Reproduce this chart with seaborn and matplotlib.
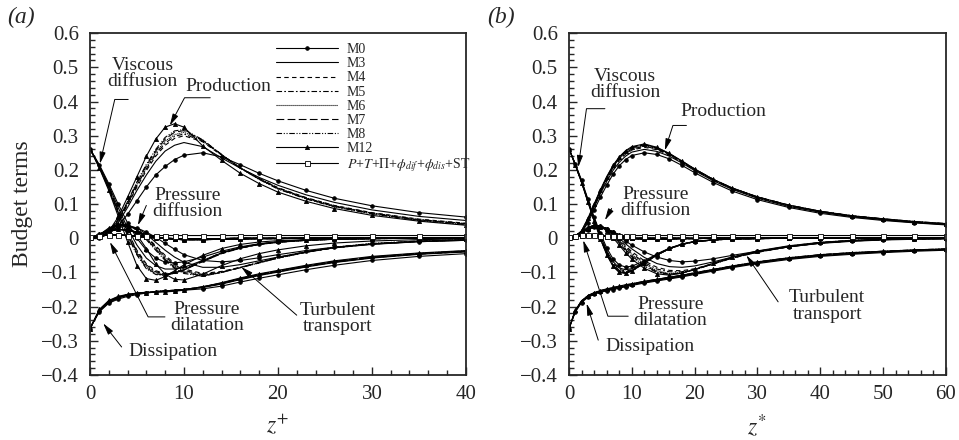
import pandas as pd
import matplotlib.pyplot as plt
import seaborn as sns
from matplotlib.ticker import MultipleLocator
from matplotlib import font_manager

models = ["M0", "M3", "M4", "M5", "M6", "M7", "M8", "M12"]
sum_label = r"$P$+$T$+$\mathit{\Pi}$+$\phi_{dif}$+$\phi_{dis}$+ST"

# ---- panel (a): wall units z+ ----
za = [0, 1, 2, 3, 4, 5, 6, 7, 8, 9, 10, 12, 14, 16, 18, 20, 23, 26, 30, 35, 40]

prod_a = [
    [0, .002, .012, .035, .070, .110, .150, .185, .210, .230, .243, .250, .238, .215, .190, .168, .140, .117, .095, .075, .062],
    [0, .002, .014, .045, .090, .140, .185, .225, .255, .272, .280, .268, .235, .205, .178, .155, .127, .105, .083, .064, .052],
    [0, .003, .016, .050, .097, .150, .198, .240, .272, .292, .300, .282, .243, .205, .175, .148, .119, .096, .075, .056, .044],
    [0, .003, .017, .052, .100, .155, .203, .246, .278, .298, .305, .284, .244, .206, .175, .147, .118, .095, .074, .055, .043],
    [0, .003, .017, .053, .102, .158, .207, .251, .284, .303, .310, .286, .245, .206, .174, .146, .117, .094, .073, .054, .042],
    [0, .003, .018, .055, .105, .162, .212, .256, .290, .310, .315, .287, .245, .205, .173, .145, .116, .093, .072, .053, .041],
    [0, .003, .018, .056, .107, .165, .216, .260, .295, .314, .318, .288, .245, .205, .172, .144, .115, .092, .071, .052, .040],
    [0, .003, .020, .062, .120, .180, .240, .290, .325, .335, .325, .270, .228, .190, .160, .135, .108, .087, .067, .050, .038],
]
visc_a = [
    [.262, .215, .160, .100, .045, .000, -.035, -.058, -.070, -.072, -.069, -.055, -.038, -.025, -.016, -.010, -.005, -.003, -.001, 0, 0],
    [.262, .212, .155, .090, .030, -.020, -.058, -.080, -.090, -.090, -.085, -.065, -.043, -.028, -.018, -.012, -.006, -.003, -.001, 0, 0],
    [.262, .210, .150, .082, .020, -.035, -.075, -.095, -.103, -.100, -.092, -.068, -.045, -.029, -.018, -.012, -.006, -.003, -.001, 0, 0],
    [.262, .210, .148, .080, .017, -.038, -.078, -.098, -.105, -.101, -.093, -.068, -.045, -.029, -.018, -.011, -.006, -.003, -.001, 0, 0],
    [.262, .209, .147, .078, .014, -.042, -.082, -.101, -.107, -.102, -.093, -.067, -.044, -.028, -.018, -.011, -.006, -.003, -.001, 0, 0],
    [.262, .208, .145, .075, .010, -.046, -.086, -.104, -.108, -.102, -.092, -.066, -.043, -.028, -.017, -.011, -.005, -.003, -.001, 0, 0],
    [.262, .208, .144, .073, .008, -.049, -.089, -.106, -.109, -.102, -.091, -.065, -.042, -.027, -.017, -.011, -.005, -.003, -.001, 0, 0],
    [.262, .205, .140, .065, -.010, -.080, -.118, -.123, -.112, -.095, -.078, -.050, -.030, -.018, -.011, -.007, -.004, -.002, -.001, 0, 0],
]
turb_a = [
    [0, .008, .022, .032, .035, .030, .018, .003, -.015, -.032, -.048, -.065, -.069, -.065, -.057, -.048, -.036, -.026, -.017, -.010, -.006],
    [0, .008, .024, .036, .038, .030, .012, -.012, -.035, -.055, -.070, -.085, -.085, -.077, -.066, -.055, -.040, -.028, -.018, -.010, -.006],
    [0, .009, .026, .038, .039, .027, .005, -.022, -.050, -.073, -.090, -.103, -.097, -.085, -.071, -.058, -.041, -.028, -.017, -.009, -.005],
    [0, .009, .026, .039, .039, .026, .003, -.025, -.054, -.077, -.094, -.106, -.099, -.086, -.072, -.058, -.041, -.028, -.017, -.009, -.005],
    [0, .009, .027, .039, .039, .025, .001, -.028, -.058, -.081, -.097, -.108, -.100, -.086, -.072, -.058, -.041, -.027, -.016, -.009, -.005],
    [0, .009, .027, .040, .039, .024, -.002, -.032, -.062, -.085, -.100, -.110, -.100, -.086, -.071, -.057, -.040, -.027, -.016, -.008, -.004],
    [0, .010, .028, .040, .039, .023, -.004, -.035, -.065, -.088, -.103, -.111, -.100, -.085, -.070, -.056, -.039, -.026, -.015, -.008, -.004],
    [0, .010, .030, .042, .035, .010, -.030, -.075, -.105, -.120, -.122, -.105, -.080, -.060, -.045, -.034, -.022, -.014, -.008, -.004, -.002],
]
diss_a = [
    [-.264, -.215, -.190, -.178, -.170, -.165, -.160, -.157, -.155, -.153, -.152, -.148, -.140, -.128, -.117, -.107, -.092, -.079, -.065, -.053, -.045],
    [-.264, -.213, -.188, -.175, -.167, -.162, -.159, -.156, -.154, -.152, -.150, -.144, -.134, -.121, -.109, -.099, -.084, -.071, -.058, -.047, -.040],
    [-.264, -.212, -.187, -.174, -.166, -.161, -.158, -.156, -.154, -.152, -.150, -.143, -.133, -.120, -.108, -.098, -.083, -.070, -.057, -.046, -.039],
    [-.264, -.211, -.186, -.173, -.166, -.161, -.158, -.156, -.154, -.152, -.150, -.143, -.132, -.119, -.107, -.097, -.082, -.069, -.056, -.046, -.039],
    [-.264, -.211, -.185, -.173, -.165, -.161, -.158, -.156, -.154, -.152, -.150, -.142, -.132, -.119, -.107, -.096, -.082, -.069, -.056, -.045, -.038],
    [-.264, -.210, -.184, -.172, -.165, -.160, -.158, -.156, -.154, -.152, -.150, -.142, -.131, -.118, -.106, -.096, -.081, -.068, -.055, -.045, -.038],
    [-.264, -.210, -.184, -.171, -.164, -.160, -.158, -.156, -.154, -.152, -.150, -.142, -.131, -.118, -.106, -.095, -.081, -.068, -.055, -.044, -.037],
    [-.264, -.208, -.182, -.170, -.164, -.161, -.159, -.158, -.157, -.155, -.152, -.142, -.130, -.116, -.104, -.094, -.079, -.066, -.053, -.043, -.036],
]
pdif_a = [0, .012, .022, .026, .024, .018, .010, .004, .000, -.003, -.004, -.004, -.003, -.002, -.001, -.001, 0, 0, 0, 0, 0]
pdil_a = [0, .006, .010, .010, .008, .005, .003, .001, 0, -.001, -.001, -.001, -.001, 0, 0, 0, 0, 0, 0, 0, 0]
sum_a = [.004, .008, .010, .009, .008, .008, .008, .008, .008, .008, .008, .008, .008, .008, .008, .008, .008, .008, .008, .008, .008]

# ---- panel (b): semi-local units z* ----
zb = [0, 1, 2, 3, 4, 5, 6, 7, 8, 9, 10, 12, 14, 16, 18, 20, 23, 26, 30, 35, 40, 45, 50, 55, 60]

prod_b = [
    [0, .003, .016, .045, .082, .120, .155, .187, .212, .230, .242, .250, .245, .232, .213, .192, .163, .138, .113, .090, .073, .061, .052, .045, .039],
    [0, .003, .018, .050, .090, .130, .166, .198, .222, .240, .252, .260, .254, .240, .220, .198, .168, .143, .117, .093, .076, .063, .054, .046, .040],
    [0, .004, .019, .052, .093, .134, .171, .203, .228, .246, .258, .266, .259, .243, .222, .200, .170, .145, .119, .095, .077, .064, .055, .047, .041],
    [0, .004, .020, .053, .095, .136, .173, .206, .231, .249, .261, .269, .261, .245, .224, .201, .171, .146, .120, .096, .078, .065, .056, .048, .042],
    [0, .004, .020, .054, .096, .138, .175, .208, .233, .251, .263, .271, .263, .246, .225, .202, .172, .146, .120, .096, .078, .065, .056, .048, .042],
    [0, .004, .021, .055, .097, .139, .177, .210, .235, .253, .265, .273, .264, .247, .225, .202, .172, .147, .121, .097, .079, .066, .056, .048, .042],
    [0, .004, .021, .056, .098, .140, .178, .211, .236, .254, .266, .274, .265, .247, .225, .202, .172, .147, .121, .097, .079, .066, .057, .049, .043],
    [0, .004, .022, .058, .100, .142, .180, .213, .238, .256, .268, .276, .266, .248, .226, .203, .172, .147, .121, .097, .079, .066, .057, .049, .043],
]
visc_b = [
    [.262, .218, .170, .115, .062, .015, -.028, -.060, -.078, -.084, -.082, -.066, -.046, -.029, -.017, -.010, -.005, -.002, -.001, 0, 0, 0, 0, 0, 0],
    [.262, .216, .167, .112, .058, .008, -.036, -.068, -.087, -.092, -.089, -.070, -.048, -.030, -.018, -.010, -.005, -.002, -.001, 0, 0, 0, 0, 0, 0],
    [.262, .216, .166, .111, .056, .005, -.040, -.072, -.091, -.096, -.092, -.072, -.049, -.031, -.018, -.010, -.005, -.002, -.001, 0, 0, 0, 0, 0, 0],
    [.262, .215, .165, .110, .055, .003, -.042, -.075, -.094, -.098, -.094, -.072, -.049, -.031, -.018, -.010, -.005, -.002, -.001, 0, 0, 0, 0, 0, 0],
    [.262, .215, .165, .109, .054, .002, -.044, -.077, -.096, -.100, -.095, -.073, -.049, -.031, -.018, -.010, -.005, -.002, -.001, 0, 0, 0, 0, 0, 0],
    [.262, .215, .164, .108, .053, .000, -.045, -.079, -.098, -.101, -.096, -.073, -.049, -.030, -.018, -.010, -.005, -.002, -.001, 0, 0, 0, 0, 0, 0],
    [.262, .215, .164, .108, .052, -.001, -.046, -.080, -.099, -.102, -.096, -.073, -.048, -.030, -.017, -.010, -.005, -.002, -.001, 0, 0, 0, 0, 0, 0],
    [.262, .215, .163, .107, .051, -.002, -.048, -.082, -.100, -.103, -.096, -.072, -.047, -.029, -.017, -.009, -.004, -.002, -.001, 0, 0, 0, 0, 0, 0],
]
turb_b = [
    [0, .005, .015, .025, .032, .033, .028, .018, .005, -.008, -.020, -.040, -.055, -.065, -.069, -.067, -.060, -.050, -.038, -.025, -.015, -.009, -.005, -.003, -.002],
    [0, .006, .016, .027, .034, .035, .028, .015, .000, -.016, -.031, -.056, -.074, -.083, -.085, -.081, -.069, -.055, -.040, -.025, -.014, -.008, -.004, -.002, -.001],
    [0, .006, .017, .029, .036, .036, .028, .013, -.004, -.022, -.039, -.066, -.085, -.094, -.095, -.089, -.074, -.058, -.041, -.025, -.014, -.008, -.004, -.002, -.001],
    [0, .006, .018, .030, .037, .036, .027, .011, -.007, -.026, -.044, -.071, -.090, -.098, -.098, -.091, -.075, -.058, -.041, -.025, -.014, -.007, -.004, -.002, -.001],
    [0, .006, .018, .030, .037, .036, .027, .010, -.010, -.030, -.048, -.075, -.095, -.103, -.100, -.092, -.075, -.058, -.040, -.024, -.013, -.007, -.004, -.002, -.001],
    [0, .007, .019, .031, .038, .036, .026, .008, -.013, -.033, -.052, -.079, -.098, -.105, -.101, -.092, -.075, -.057, -.039, -.024, -.013, -.007, -.003, -.002, -.001],
    [0, .007, .019, .031, .038, .035, .025, .006, -.015, -.036, -.055, -.082, -.100, -.106, -.102, -.092, -.074, -.056, -.038, -.023, -.012, -.006, -.003, -.001, 0],
    [0, .007, .020, .032, .038, .034, .022, .002, -.020, -.042, -.061, -.088, -.104, -.108, -.102, -.091, -.073, -.055, -.037, -.022, -.012, -.006, -.003, -.001, 0],
]
diss_b = [
    [-.264, -.216, -.188, -.173, -.164, -.158, -.154, -.150, -.146, -.142, -.138, -.131, -.125, -.119, -.113, -.106, -.096, -.086, -.074, -.062, -.053, -.047, -.042, -.038, -.035],
    [-.264, -.214, -.186, -.171, -.162, -.156, -.152, -.148, -.144, -.140, -.136, -.129, -.123, -.117, -.111, -.104, -.094, -.084, -.072, -.060, -.051, -.045, -.040, -.036, -.033],
    [-.264, -.213, -.185, -.170, -.161, -.155, -.151, -.147, -.143, -.139, -.135, -.128, -.122, -.116, -.110, -.103, -.093, -.083, -.071, -.059, -.050, -.044, -.040, -.036, -.033],
    [-.264, -.213, -.185, -.170, -.161, -.155, -.150, -.146, -.142, -.138, -.135, -.128, -.122, -.116, -.110, -.103, -.093, -.083, -.071, -.059, -.050, -.044, -.039, -.035, -.032],
    [-.264, -.212, -.184, -.169, -.160, -.154, -.150, -.146, -.142, -.138, -.134, -.127, -.121, -.115, -.109, -.102, -.092, -.082, -.070, -.058, -.049, -.043, -.039, -.035, -.032],
    [-.264, -.212, -.184, -.169, -.160, -.154, -.149, -.145, -.141, -.137, -.134, -.127, -.121, -.115, -.109, -.102, -.092, -.082, -.070, -.058, -.049, -.043, -.038, -.035, -.032],
    [-.264, -.211, -.183, -.168, -.159, -.153, -.149, -.145, -.141, -.137, -.133, -.126, -.120, -.114, -.108, -.101, -.091, -.081, -.069, -.057, -.048, -.042, -.038, -.034, -.031],
    [-.264, -.211, -.183, -.168, -.159, -.153, -.148, -.144, -.140, -.136, -.133, -.126, -.120, -.114, -.108, -.101, -.091, -.081, -.069, -.057, -.048, -.042, -.038, -.034, -.031],
]
pdif_b = [0, .008, .018, .028, .035, .035, .028, .018, .010, .004, .000, -.003, -.003, -.002, -.001, -.001, 0, 0, 0, 0, 0, 0, 0, 0, 0]
pdil_b = [0, .004, .008, .010, .009, .007, .005, .003, .002, .001, 0, 0, 0, 0, 0, 0, 0, 0, 0, 0, 0, 0, 0, 0, 0]
sum_b = [.004, .008, .009, .009, .009, .008, .008, .008, .008, .008, .008, .008, .008, .008, .008, .008, .008, .008, .008, .008, .008, .008, .008, .008, .008]

sns.set_style("ticks")
# Times-like face; fall back to matplotlib's bundled STIX if Liberation is absent
serif = [f for f in ["Liberation Serif", "STIXGeneral"]
         if f in {x.name for x in font_manager.fontManager.ttflist}]
plt.rcParams["font.family"] = serif + ["DejaVu Serif"]
plt.rcParams["mathtext.fontset"] = "stix"
plt.rcParams["axes.linewidth"] = 1.3

model_style = {
    "M0": dict(linestyle="-", marker="o", markersize=2.6, markerfacecolor="k"),
    "M3": dict(linestyle="-"),
    "M4": dict(linestyle=(0, (4, 3))),
    "M5": dict(linestyle=(0, (5, 2, 1.5, 2))),
    "M6": dict(linestyle=(0, (1, 0.8))),
    "M7": dict(linestyle=(0, (7, 3))),
    "M8": dict(linestyle=(0, (5, 1.5, 1, 1.5, 1, 1.5))),
    "M12": dict(linestyle="-", marker="^", markersize=3, markerfacecolor="k"),
}
sum_style = dict(linestyle="-", marker="s", markersize=3.6, markerfacecolor="white")


def long_table(z, tables, shared):
    parts = []
    for term, table in tables.items():
        for name, vals in zip(models, table):
            parts.append(pd.DataFrame({"z": z, "value": vals, "model": name, "term": term}))
    for term, vals in shared.items():
        for name in models:
            parts.append(pd.DataFrame({"z": z, "value": vals, "model": name, "term": term}))
    return pd.concat(parts, ignore_index=True)


def draw_panel(ax, df, z, total, with_legend):
    for term in df["term"].unique():
        for name in models:
            sub = df[(df["term"] == term) & (df["model"] == name)]
            lab = name if (with_legend and term == "production") else None
            sns.lineplot(data=sub, x="z", y="value", ax=ax, color="k", lw=0.8,
                         estimator=None, sort=False, label=lab,
                         markeredgecolor="k", markeredgewidth=0.6, **model_style[name])
    sdf = pd.DataFrame({"z": z, "value": total})
    sns.lineplot(data=sdf, x="z", y="value", ax=ax, color="k", lw=0.8,
                 estimator=None, sort=False, label=sum_label if with_legend else None,
                 markeredgecolor="k", markeredgewidth=0.6, **sum_style)


def label(ax, text, xy):
    ax.text(xy[0], xy[1], text, ha="center", va="center", fontsize=14,
            linespacing=0.95, zorder=5)


def arrow(ax, tip, tail, angle=None):
    props = dict(arrowstyle="-|>,head_length=0.7,head_width=0.18", color="k",
                 lw=0.7, shrinkA=0, shrinkB=0)
    if angle is not None:
        props["connectionstyle"] = f"angle,angleA=0,angleB={angle},rad=0"
    ax.annotate("", xy=tip, xytext=tail, arrowprops=props)


fig = plt.figure(figsize=(9.59, 4.4), dpi=100)
ax_a = fig.add_axes([0.0938, 0.1477, 0.392, 0.777])
ax_b = fig.add_axes([0.5933, 0.1477, 0.393, 0.777])

df_a = long_table(za, {"production": prod_a, "viscous": visc_a, "turbulent": turb_a,
                       "dissipation": diss_a},
                  {"pdiffusion": pdif_a, "pdilatation": pdil_a})
df_b = long_table(zb, {"production": prod_b, "viscous": visc_b, "turbulent": turb_b,
                       "dissipation": diss_b},
                  {"pdiffusion": pdif_b, "pdilatation": pdil_b})

draw_panel(ax_a, df_a, za, sum_a, True)
draw_panel(ax_b, df_b, zb, sum_b, False)

for ax, xmax in [(ax_a, 40), (ax_b, 60)]:
    ax.set_xlim(0, xmax)
    ax.set_ylim(-0.4, 0.6)
    ax.xaxis.set_major_locator(MultipleLocator(10))
    ax.xaxis.set_minor_locator(MultipleLocator(2))
    ax.yaxis.set_major_locator(MultipleLocator(0.1))
    ax.yaxis.set_minor_locator(MultipleLocator(0.02))
    ax.yaxis.set_major_formatter(plt.FuncFormatter(
        lambda v, p: "0" if abs(v) < 1e-9 else f"{v:.1f}".replace("-", "\u2212")))
    ax.tick_params(which="both", direction="in", top=False, right=False, labelsize=15,
                   width=1.0)
    ax.tick_params(which="major", length=6)
    ax.tick_params(which="minor", length=3.5)
    ax.tick_params(axis="x", which="major", pad=7)
    ax.tick_params(axis="y", which="major", pad=8)
    ax.set_ylabel("")

ax_a.set_ylabel("Budget terms", fontsize=17, labelpad=6)
ax_a.set_xlabel(r"$z^{+}$", fontsize=17, labelpad=7)
ax_b.set_xlabel(r"$z^{*}$", fontsize=17, labelpad=7)

ax_a.legend(loc="upper left", bbox_to_anchor=(0.472, 0.995), frameon=False,
            fontsize=10, handlelength=4.5, handletextpad=0.6, labelspacing=0.08,
            borderpad=0.1)
leg_b = ax_b.get_legend()
if leg_b is not None:
    leg_b.remove()

# annotations, panel (a)
label(ax_a, "Viscous\ndiffusion", (5.6, 0.482))
arrow(ax_a, (1.06, 0.218), (4.07, 0.406), 77)
label(ax_a, "Production", (14.7, 0.445))
arrow(ax_a, (8.5, 0.33), (12.8, 0.411), 62)
label(ax_a, "Pressure\ndiffusion", (10.4, 0.102))
arrow(ax_a, (5.1, 0.038), (6.0, 0.096))
label(ax_a, "Pressure\ndilatation", (12.45, -0.231))
arrow(ax_a, (2.13, -0.011), (7.98, -0.230), -63)
label(ax_a, "Dissipation", (8.86, -0.332))
arrow(ax_a, (1.41, -0.249), (3.37, -0.318))
label(ax_a, "Turbulent\ntransport", (26.4, -0.234))
arrow(ax_a, (16.1, -0.084), (22.0, -0.225))

# annotations, panel (b)
label(ax_b, "Viscous\ndiffusion", (8.9, 0.45))
arrow(ax_b, (1.48, 0.208), (5.72, 0.379), 82)
label(ax_b, "Production", (24.6, 0.372))
arrow(ax_b, (15.26, 0.257), (18.7, 0.33), 72)
label(ax_b, "Pressure\ndiffusion", (13.8, 0.104))
arrow(ax_b, (5.72, 0.053), (6.79, 0.087))
label(ax_b, "Pressure\ndilatation", (16.1, -0.218))
arrow(ax_b, (2.27, -0.006), (9.43, -0.228), -72)
label(ax_b, "Dissipation", (12.9, -0.318))
arrow(ax_b, (2.81, -0.191), (4.66, -0.298))
label(ax_b, "Turbulent\ntransport", (41.1, -0.198))
arrow(ax_b, (28.25, -0.05), (33.3, -0.186))

fig.text(0.022, 0.96, "(a)", fontsize=17, style="italic", ha="center", va="center")
fig.text(0.522, 0.96, "(b)", fontsize=17, style="italic", ha="center", va="center")

fig.savefig("out.png", dpi=100)
